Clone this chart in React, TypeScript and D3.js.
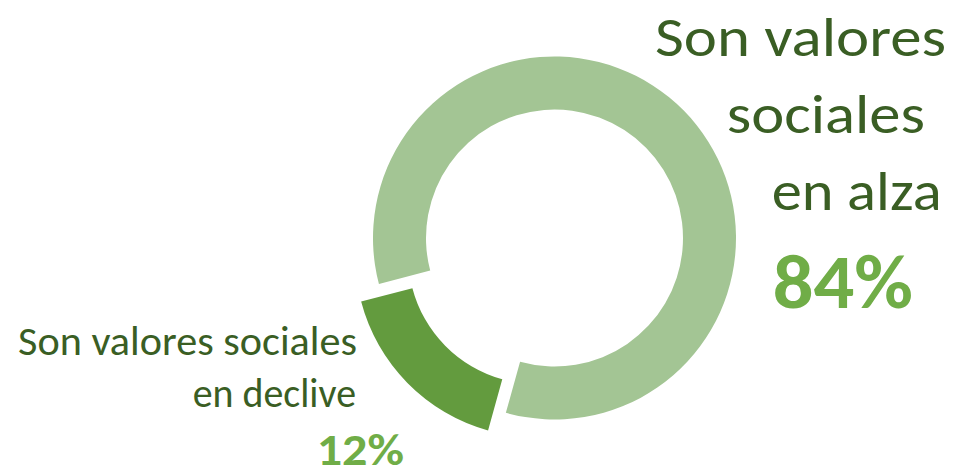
import React from "react";
import * as d3 from "d3";

const categories = ["Son valores sociales en alza", "Son valores sociales en declive"];
const sliceShares = [83.4, 16.6];
const pctLabels = ["84%", "12%"];
const sliceColors = ["#A3C594", "#639B3E"];
const explode = [0, 25];

const W = 954;
const H = 469;
const cx = 554.5;
const cy = 238;
const outerR = 181.5;
const innerR = 128.5;

const textDark = "#3A5E24";
const textPct = "#70AD47";
const FONT = "Calibri, Carlito, Lato, sans-serif";

type Line = { t: string; x: number; y: number; w: number; size: number; bold?: boolean; color: string };

const rightLines: Line[] = [
  { t: "Son valores", x: 655, y: 55.7, w: 291, size: 54.5, color: textDark },
  { t: "sociales", x: 726.7, y: 133.3, w: 198.3, size: 54.5, color: textDark },
  { t: "en alza", x: 771.7, y: 210, w: 170, size: 54.5, color: textDark },
  { t: pctLabels[0], x: 772.7, y: 308, w: 140.3, size: 76, bold: true, color: textPct },
];

const leftLines: Line[] = [
  { t: "Son valores sociales", x: 18, y: 355, w: 339, size: 40.5, color: textDark },
  { t: "en declive", x: 192.7, y: 406.7, w: 163.3, size: 40.5, color: textDark },
  { t: pctLabels[1], x: 316.7, y: 465, w: 87.3, size: 44.5, bold: true, color: textPct },
];

export default function App() {
  const start = (255.3 * Math.PI) / 180;
  const pie = d3
    .pie<number>()
    .sort(null)
    .value((d) => d)
    .startAngle(start)
    .endAngle(start + 2 * Math.PI);
  const arcs = pie(sliceShares);
  const arcGen = d3.arc<d3.PieArcDatum<number>>().innerRadius(innerR).outerRadius(outerR);

  return (
    <svg width={W} height={H} style={{ position: "absolute", left: 0, top: 0 }}>
      <rect width={W} height={H} fill="#ffffff" />
      <g transform={`translate(${cx},${cy})`}>
        {arcs.map((a, i) => {
          const mid = (a.startAngle + a.endAngle) / 2;
          const dx = explode[i] * Math.sin(mid);
          const dy = -explode[i] * Math.cos(mid);
          return (
            <path
              key={categories[i]}
              d={arcGen(a) || ""}
              fill={sliceColors[i]}
              transform={`translate(${dx},${dy})`}
            />
          );
        })}
      </g>
      {[...rightLines, ...leftLines].map((l, i) => (
        <text
          key={i}
          x={l.x}
          y={l.y}
          fontFamily={FONT}
          fontSize={l.size}
          fontWeight={l.bold ? 700 : 400}
          fill={l.color}
          textLength={l.w}
          lengthAdjust="spacingAndGlyphs"
        >
          {l.t}
        </text>
      ))}
    </svg>
  );
}
